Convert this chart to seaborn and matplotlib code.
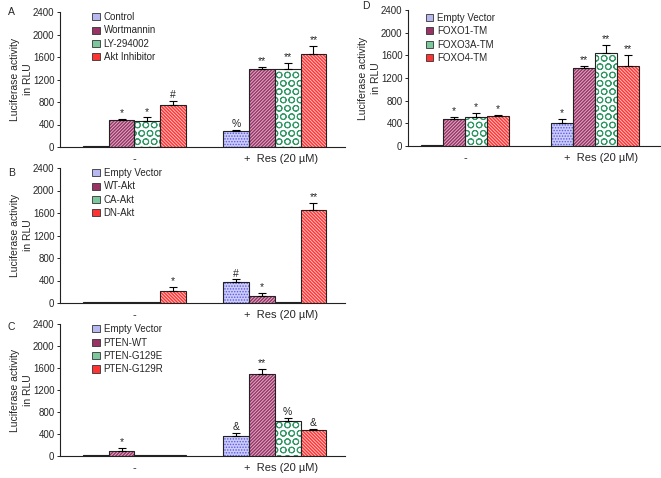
import numpy as np
import pandas as pd
import matplotlib
matplotlib.use("Agg")
import matplotlib.pyplot as plt
from matplotlib.patches import Patch, Rectangle
from matplotlib.transforms import ScaledTranslation
import seaborn as sns

groups = ["-", "+  Res (20 µM)"]

# panel A
a_labels = ["Control", "Wortmannin", "LY-294002", "Akt Inhibitor"]
a_minus = [20, 480, 460, 740]
a_minus_err = [0, 25, 65, 85]
a_res = [280, 1380, 1380, 1660]
a_res_err = [20, 45, 120, 130]
a_minus_sig = ["", "*", "*", "#"]
a_res_sig = ["%", "**", "**", "**"]

# panel B
b_labels = ["Empty Vector", "WT-Akt", "CA-Akt", "DN-Akt"]
b_minus = [20, 20, 20, 220]
b_minus_err = [0, 0, 0, 60]
b_res = [380, 130, 20, 1650]
b_res_err = [40, 50, 0, 130]
b_minus_sig = ["", "", "", "*"]
b_res_sig = ["#", "*", "", "**"]

# panel C
c_labels = ["Empty Vector", "PTEN-WT", "PTEN-G129E", "PTEN-G129R"]
c_minus = [20, 100, 20, 20]
c_minus_err = [0, 40, 0, 0]
c_res = [370, 1490, 630, 470]
c_res_err = [50, 90, 60, 25]
c_minus_sig = ["", "*", "", ""]
c_res_sig = ["&", "**", "%", "&"]

# panel D
d_labels = ["Empty Vector", "FOXO1-TM", "FOXO3A-TM", "FOXO4-TM"]
d_minus = [20, 480, 510, 530]
d_minus_err = [0, 30, 80, 20]
d_res = [410, 1380, 1645, 1420]
d_res_err = [75, 40, 130, 180]
d_minus_sig = ["", "*", "*", "*"]
d_res_sig = ["*", "**", "**", "**"]

fills = ["#ccccff", "#993366", "#ffffff", "#ff3333"]
hatch_cols = ["#5a5ad8", "#dcaec6", "#339966", "#ffc0c0"]
hatches = ["......", "//////////", "OO", "\\\\\\\\\\\\\\\\\\\\"]
key_cols = ["#b8b8f0", "#993366", "#7cc79c", "#ff3333"]

sns.set_style("white")
plt.rcParams["font.family"] = ["Liberation Sans", "DejaVu Sans"]
plt.rcParams["hatch.linewidth"] = 0.7


def BuildFrame(labels, minus, res):
    rows = []
    for i, lab in enumerate(labels):
        rows.append((groups[0], lab, minus[i]))
        rows.append((groups[1], lab, res[i]))
    return pd.DataFrame(rows, columns=["treatment", "construct", "rlu"])


def DrawPanel(ax, labels, minus, res, minus_err, res_err, minus_sig, res_sig,
              width, xlim, leg_xy):
    df = BuildFrame(labels, minus, res)
    sns.barplot(data=df, x="treatment", y="rlu", hue="construct", order=groups,
                hue_order=labels, palette=fills, saturation=1, errorbar=None,
                width=width, gap=0, ax=ax, legend=False)
    errs = [minus_err, res_err]
    sigs = [minus_sig, res_sig]
    bar_sets = list(ax.containers)
    for i, cont in enumerate(bar_sets):
        for j, bar in enumerate(cont.patches):
            bar.set_hatch(hatches[i])
            bar.set_edgecolor(hatch_cols[i])
            bar.set_linewidth(0)
            x0, y0 = bar.get_xy()
            w = bar.get_width()
            h = bar.get_height()
            # outline drawn on top so hatch and border can differ in colour
            ax.add_patch(Rectangle((x0, y0), w, h, fill=False,
                                   edgecolor="#222222", linewidth=0.8, zorder=3))
            e = errs[j][i]
            top = h
            if e > 0:
                ax.errorbar(x0 + w / 2, h, yerr=[[0], [e]], fmt="none",
                            ecolor="black", elinewidth=0.8, capsize=3,
                            capthick=0.8, zorder=4)
                top = h + e
            if sigs[j][i]:
                ax.text(x0 + w / 2, top + 15, sigs[j][i], ha="center",
                        va="bottom", fontsize=7.5)

    ax.set_xlim(*xlim)
    ax.set_ylim(0, 2400)
    ax.set_yticks(np.arange(0, 2401, 400))
    ax.set_xlabel("")
    ax.set_ylabel("Luciferase activity\nin RLU", fontsize=7.5, labelpad=0,
                  linespacing=1.35)
    ax.tick_params(axis="y", labelsize=7, length=2.5, width=0.7,
                   direction="out", left=True, pad=1.5)
    ax.tick_params(axis="x", labelsize=8, length=0, pad=5)
    shift = ScaledTranslation(6 / 100, 0, fig.dpi_scale_trans)
    ax.get_xticklabels()[1].set_transform(ax.get_xticklabels()[1].get_transform() + shift)
    sns.despine(ax=ax)
    for s in ["left", "bottom"]:
        ax.spines[s].set_linewidth(0.8)
        ax.spines[s].set_color("#222222")

    handles = [Patch(facecolor=key_cols[i], edgecolor="#333333", linewidth=0.6)
               for i in range(len(labels))]
    ax.legend(handles, labels, loc="upper left", bbox_to_anchor=leg_xy,
              frameon=False, fontsize=7, handlelength=0.75, handleheight=0.75,
              handletextpad=0.4, labelspacing=0.35, borderpad=0.2)


fig = plt.figure(figsize=(6.61, 4.78), dpi=100)
W, H = 661.0, 478.0


def AxesAt(left, right, top, bottom):
    return fig.add_axes([left / W, 1 - bottom / H, (right - left) / W, (bottom - top) / H])


ax_a = AxesAt(60, 345, 12, 147)
ax_b = AxesAt(60, 345, 168, 303)
ax_c = AxesAt(60, 345, 324, 456)
ax_d = AxesAt(408, 661, 10, 146)

DrawPanel(ax_a, a_labels, a_minus, a_res, a_minus_err, a_res_err, a_minus_sig,
          a_res_sig, 0.735, (-0.53, 1.5), (0.09, 1.05))
DrawPanel(ax_b, b_labels, b_minus, b_res, b_minus_err, b_res_err, b_minus_sig,
          b_res_sig, 0.735, (-0.53, 1.5), (0.09, 1.05))
DrawPanel(ax_c, c_labels, c_minus, c_res, c_minus_err, c_res_err, c_minus_sig,
          c_res_sig, 0.735, (-0.53, 1.5), (0.09, 1.05))
DrawPanel(ax_d, d_labels, d_minus, d_res, d_minus_err, d_res_err, d_minus_sig,
          d_res_sig, 0.68, (-0.44, 1.51), (0.045, 1.03))

for letter, x, y in [("A", 8, 12), ("B", 8, 173), ("C", 8, 327), ("D", 362, 6)]:
    fig.text(x / W, 1 - y / H, letter, fontsize=7.5, va="center", ha="left")

fig.savefig("out.png", dpi=100)
